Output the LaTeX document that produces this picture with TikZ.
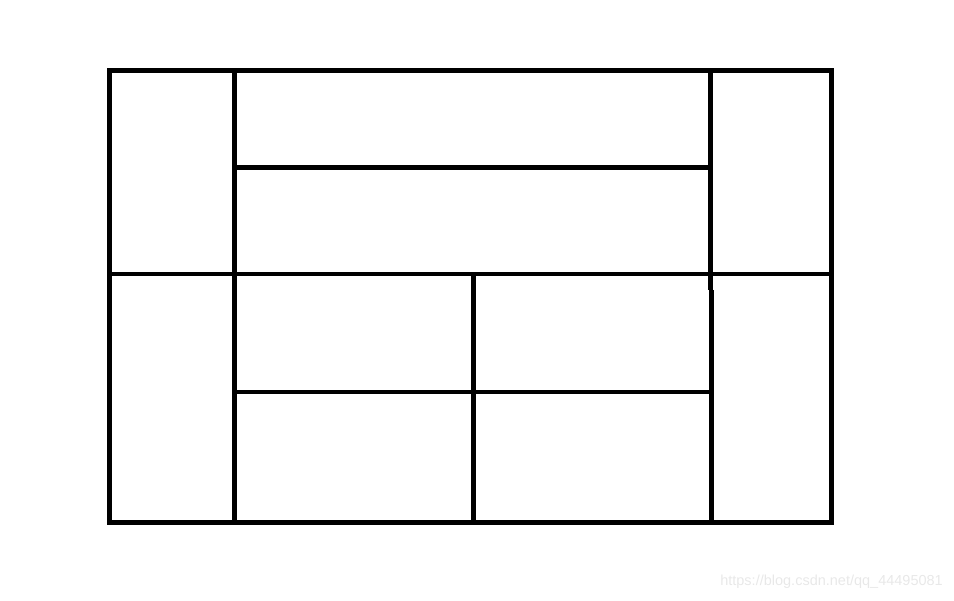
\documentclass[tikz,border=0pt]{standalone}
\usepackage{fontspec}
\setmainfont{Liberation Sans}
\usetikzlibrary{positioning}

\begin{document}
\begin{tikzpicture}[
            x=1pt, y=-1pt,
            wall/.style={ draw=black, line width=4.8pt },
            watermark/.style={ text=black!9, font=\fontsize{14.5}{16}\selectfont, inner sep=0pt }
        ]
        \useasboundingbox (0,0) rectangle (954,601);

        \coordinate (tl) at (109.5,70.5);
        \coordinate (br) at (831.5,522.5);

        \draw[wall] (tl) rectangle (br);
        \draw[wall] (109.5,274) -- (831.5,274);
        \draw[wall] (234.5,70.5) -- (234.5,522.5);
        \draw[wall] (710.5,70.5) -- (710.5,290) (711.5,290) -- (711.5,522.5);
        \draw[wall] (234.5,167.5) -- (710.5,167.5);
        \draw[wall] (234.5,392) -- (711.5,392);
        \draw[wall] (473.5,274) -- (473.5,522.5);

        \node[watermark, anchor=east] (wm) at (943,582) {https://blog.csdn.net/qq\_44495081};
    \end{tikzpicture}
\end{document}
